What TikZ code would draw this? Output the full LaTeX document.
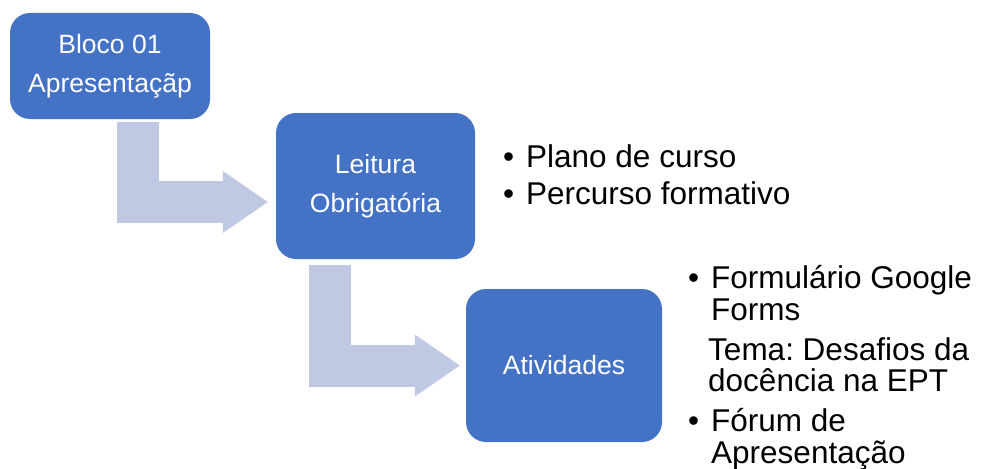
\documentclass[tikz,border=0pt]{standalone}
\usepackage{fontspec}
\setmainfont{Liberation Sans}
\usepackage{tikz}
\usetikzlibrary{
	arrows.meta,
	positioning,
}
\frenchspacing
\definecolor{boxblue}{HTML}{4472C4}
\definecolor{arrowblue}{HTML}{BFC9E3}
\tikzset{block/.style={
	fill=boxblue,
	draw=none,
	rounded corners=20pt,
	text=white,
	align=center,
	inner sep=0pt,
	font=\fontsize{26.5}{38.5}\selectfont,
}}
\tikzset{bent/.style={
	arrowblue,
	line width=42pt,
	line join=miter,
	-{Triangle[length=45pt,width=62pt,line width=0pt]},
}}
\tikzset{list/.style={
	anchor=base west,
	inner sep=0pt,
	align=left,
	font=\fontsize{31.5}{31.5}\selectfont,
}}
\newcommand{\itm}{\makebox[23pt][l]{\textbullet}}
\newcommand{\ind}{\hspace*{23pt}}

\begin{document}
\begin{tikzpicture}[x=1pt,y=-1pt]
\useasboundingbox (0,0) rectangle (981,468);

\node[block, minimum width=200pt, minimum height=106pt](b1) at (110,66) {Bloco 01\\Apresentaçãp};
\node[block, minimum width=199pt, minimum height=146pt](b2) at (375.5,186) {Leitura\\Obrigatória};
\node[block, minimum width=196pt, minimum height=153pt](b3) at (564,365.5) {Atividades};

% b1 -> b2
\draw[bent] ([xshift=28pt,yshift=-3pt]b1.south) |- ([xshift=-8pt,yshift=-16pt]b2.west);

% b2 -> b3
\draw[bent] ([xshift=-45.5pt,yshift=-6pt]b2.south) |- ([xshift=-6pt]b3.west);

% lists (base = last line)
\node[list](l1) at (503,204) {\itm Plano de curso\\[5.5pt]
\itm Percurso formativo};

\node[list](l2) at (688,463) {\itm Formulário Google\\
\ind Forms\\[8.5pt]
\hspace*{20pt}Tema: Desafios da\\
\hspace*{20pt}docência na EPT\\[8.5pt]
\itm Fórum de\\
\ind Apresentação};

\end{tikzpicture}
\end{document}
